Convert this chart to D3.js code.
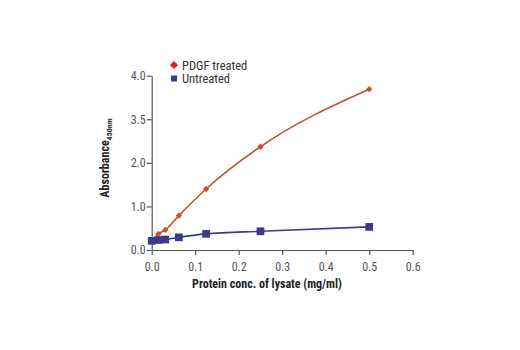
<!DOCTYPE html>
<html><head><meta charset="utf-8">
<script src="https://cdn.jsdelivr.net/npm/d3@7"></script>
<style>body{margin:0;background:#fff}svg{display:block}</style>
</head><body>
<svg id="c" width="520" height="350"></svg>
<script>
const concentrations = [0, 0.0156, 0.03125, 0.0625, 0.125, 0.25, 0.5];
const pdgfTreated = [0.21, 0.37, 0.46, 0.79, 1.40, 2.37, 3.69];
const untreated = [0.21, 0.23, 0.24, 0.29, 0.37, 0.43, 0.53];
const xTicks = [0, 0.1, 0.2, 0.3, 0.4, 0.5, 0.6];
const yTicks = [0, 1, 2, 3, 4];
const yTickLabels = ["0.0", "1.0", "2.0", "3.5", "4.0"];
const seriesNames = ["PDGF treated", "Untreated"];

const svg = d3.select("#c");
const font = "'Liberation Sans Narrow','Roboto Condensed','Liberation Sans',Arial,sans-serif";
const x = d3.scaleLinear().domain([0, 0.6]).range([151.7, 412.7]);
const y = d3.scaleLinear().domain([0, 4]).range([250, 75.7]);

const xAxis = svg.append("g").attr("transform", `translate(0,${y(0)})`)
  .call(d3.axisBottom(x).tickValues(xTicks).tickFormat(d3.format(".1f")).tickSize(5).tickSizeOuter(0));
const yAxis = svg.append("g").attr("transform", `translate(${x(0)},0)`)
  .call(d3.axisLeft(y).tickValues(yTicks).tickFormat((d,i)=>yTickLabels[i]).tickSize(5).tickSizeOuter(0));
[xAxis, yAxis].forEach(a=>{
  a.select(".domain").attr("stroke","#555").attr("stroke-width",1.2);
  a.selectAll(".tick line").attr("stroke","#555").attr("stroke-width",1.2);
  a.selectAll(".tick text").attr("fill","#555").style("font-family",font).style("font-size","12px");
});
xAxis.selectAll(".tick text").attr("dy","1.05em");
yAxis.selectAll(".tick text").attr("x",-6);

const series = [
  {name: seriesNames[0], vals: pdgfTreated, color: "#c4512c", marker: "diamond"},
  {name: seriesNames[1], vals: untreated, color: "#3d3a8c", marker: "square"}
];
const line = d3.line().x(d=>x(d[0])).y(d=>y(d[1])).curve(d3.curveMonotoneX);
series.forEach(s=>{
  const pts = concentrations.map((c,i)=>[c, s.vals[i]]);
  svg.append("path").datum(pts).attr("d", line).attr("fill","none")
    .attr("stroke", s.color).attr("stroke-width", 1.6);
  svg.selectAll(null).data(pts).enter().append("path")
    .attr("transform", d=>`translate(${x(d[0])},${y(d[1])})` + (s.marker==="diamond" ? " rotate(45)" : ""))
    .attr("d", s.marker==="diamond" ? d3.symbol(d3.symbolSquare, 20)() : d3.symbol(d3.symbolSquare, 60)())
    .attr("fill", s.color);
});

// legend
const lg = svg.append("g");
lg.append("path").attr("transform","translate(174,65) rotate(45)").attr("d", d3.symbol(d3.symbolSquare, 34)()).attr("fill","#e3222a");
lg.append("text").attr("x",182).attr("y",69.5).text(seriesNames[0]).attr("fill","#333")
  .style("font-family",font).style("font-size","12.5px");
lg.append("rect").attr("x",171).attr("y",75.5).attr("width",6).attr("height",6).attr("fill","#3d3a8c");
lg.append("text").attr("x",182).attr("y",83).text(seriesNames[1]).attr("fill","#333")
  .style("font-family",font).style("font-size","12.5px");

// axis titles
svg.append("text").attr("x",267).attr("y",288).attr("text-anchor","middle")
  .style("font-family",font).style("font-size","12px").style("font-weight","bold").attr("fill","#222")
  .text("Protein conc. of lysate (mg/ml)");
const yt = svg.append("text").attr("transform","translate(109,158) rotate(-90)").attr("text-anchor","middle")
  .style("font-family",font).style("font-size","12px").style("font-weight","bold").attr("fill","#222");
yt.append("tspan").text("Absorbance");
yt.append("tspan").attr("dy","3").style("font-size","8px").text("450nm");
</script>
</body></html>
